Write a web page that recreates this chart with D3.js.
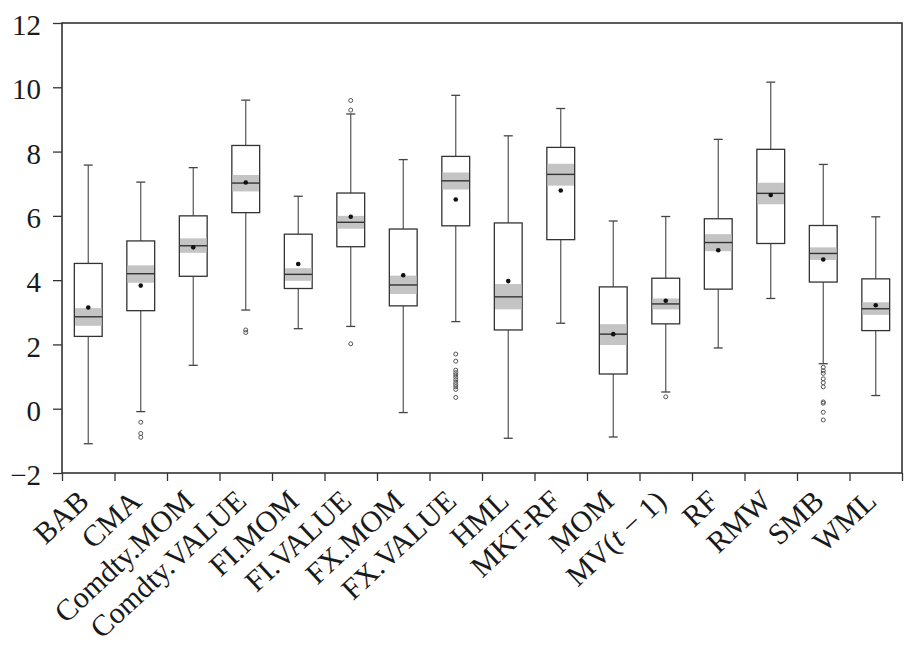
<!DOCTYPE html>
<html>
<head>
<meta charset="utf-8">
<script src="https://cdn.jsdelivr.net/npm/d3@7"></script>
<style>
  body { margin: 0; background: #fff; }
  svg text { font-family: "Liberation Serif", "Times New Roman", serif; fill: #1a1a1a; font-kerning: normal; }
</style>
</head>
<body>
<svg id="chart" width="909" height="651"></svg>
<script>
// factor names, one box each
var categories = ["BAB", "CMA", "Comdty.MOM", "Comdty.VALUE", "FI.MOM", "FI.VALUE",
  "FX.MOM", "FX.VALUE", "HML", "MKT-RF", "MOM", "MV(t-1)", "RF", "RMW", "SMB", "WML"];

// box statistics
var whiskerHi = [7.58, 7.05, 7.50, 9.60, 6.61, 9.17, 7.75, 9.75, 8.49, 9.34, 5.84, 5.98, 8.38, 10.16, 7.60, 5.97];
var q3        = [4.52, 5.22, 6.00, 8.19, 5.43, 6.71, 5.59, 7.85, 5.78, 8.13, 3.79, 4.06, 5.91, 8.07, 5.70, 4.04];
var notchHi   = [3.13, 4.46, 5.30, 7.27, 4.37, 6.00, 4.14, 7.35, 3.88, 7.62, 2.63, 3.43, 5.43, 7.03, 5.02, 3.31];
var median    = [2.86, 4.20, 5.07, 7.02, 4.18, 5.80, 3.85, 7.09, 3.48, 7.29, 2.32, 3.26, 5.17, 6.70, 4.83, 3.11];
var notchLo   = [2.58, 3.92, 4.85, 6.76, 3.98, 5.60, 3.57, 6.82, 3.09, 6.94, 1.98, 3.09, 4.90, 6.36, 4.63, 2.92];
var q1        = [2.25, 3.05, 4.12, 6.10, 3.74, 5.04, 3.20, 5.69, 2.45, 5.26, 1.08, 2.64, 3.72, 5.14, 3.94, 2.43];
var whiskerLo = [-1.09, -0.09, 1.35, 3.07, 2.49, 2.56, -0.12, 2.71, -0.92, 2.66, -0.88, 0.52, 1.89, 3.43, 1.40, 0.41];
var means     = [3.15, 3.83, 5.02, 7.04, 4.50, 5.97, 4.15, 6.51, 3.97, 6.79, 2.32, 3.36, 4.93, 6.65, 4.64, 3.22];
var outliers  = [
  [],
  [-0.42, -0.77, -0.89],
  [],
  [2.45, 2.37],
  [],
  [9.59, 9.29, 2.02],
  [],
  [1.70, 1.48, 1.20, 1.12, 1.05, 0.98, 0.90, 0.82, 0.75, 0.68, 0.60, 0.35],
  [], [], [],
  [0.37],
  [], [],
  [1.29, 1.18, 1.10, 0.93, 0.81, 0.68, 0.21, 0.17, -0.11, -0.35],
  []
];
var yTicks = [-2, 0, 2, 4, 6, 8, 10, 12];

var svg = d3.select("#chart");
var margin = {top: 23, right: 7, bottom: 178, left: 62};
var width = 909 - margin.left - margin.right;
var height = 651 - margin.top - margin.bottom;

var g = svg.append("g")
  .attr("transform", "translate(" + margin.left + "," + margin.top + ")");

var x = d3.scaleBand().domain(categories).range([0, width]).paddingInner(0).paddingOuter(0);
var y = d3.scaleLinear().domain([-2, 12]).range([height, 0]);

var boxW = x.bandwidth() * 0.53;
var capW = 9;

var data = categories.map(function(c, i) {
  return {
    name: c, hi: whiskerHi[i], q3: q3[i], nHi: notchHi[i], med: median[i],
    nLo: notchLo[i], q1: q1[i], lo: whiskerLo[i], mean: means[i], out: outliers[i]
  };
});

var box = g.selectAll(".box").data(data).enter()
  .append("g")
    .attr("class", "box")
    .attr("transform", function(d) { return "translate(" + (x(d.name) + x.bandwidth() / 2) + ",0)"; });

// whiskers
box.append("line")
  .attr("x1", 0).attr("x2", 0)
  .attr("y1", function(d) { return y(d.q3); })
  .attr("y2", function(d) { return y(d.hi); })
  .attr("stroke", "#555").attr("stroke-width", 1.2);
box.append("line")
  .attr("x1", 0).attr("x2", 0)
  .attr("y1", function(d) { return y(d.q1); })
  .attr("y2", function(d) { return y(d.lo); })
  .attr("stroke", "#555").attr("stroke-width", 1.2);
box.append("line")
  .attr("x1", -capW / 2).attr("x2", capW / 2)
  .attr("y1", function(d) { return y(d.hi); })
  .attr("y2", function(d) { return y(d.hi); })
  .attr("stroke", "#444").attr("stroke-width", 1.3);
box.append("line")
  .attr("x1", -capW / 2).attr("x2", capW / 2)
  .attr("y1", function(d) { return y(d.lo); })
  .attr("y2", function(d) { return y(d.lo); })
  .attr("stroke", "#444").attr("stroke-width", 1.3);

// box body
box.append("rect")
  .attr("x", -boxW / 2)
  .attr("width", boxW)
  .attr("y", function(d) { return y(d.q3); })
  .attr("height", function(d) { return y(d.q1) - y(d.q3); })
  .attr("fill", "#fff").attr("stroke", "#333").attr("stroke-width", 1.3);

// notch band
box.append("rect")
  .attr("x", -boxW / 2 + 0.7)
  .attr("width", boxW - 1.4)
  .attr("y", function(d) { return y(d.nHi); })
  .attr("height", function(d) { return y(d.nLo) - y(d.nHi); })
  .attr("fill", "#c4c4c4");

// median
box.append("line")
  .attr("x1", -boxW / 2).attr("x2", boxW / 2)
  .attr("y1", function(d) { return y(d.med); })
  .attr("y2", function(d) { return y(d.med); })
  .attr("stroke", "#333").attr("stroke-width", 1.4);

// mean
box.append("circle")
  .attr("cx", 0)
  .attr("cy", function(d) { return y(d.mean); })
  .attr("r", 2.3)
  .attr("fill", "#111");

// outliers
box.selectAll(".out").data(function(d) { return d.out; }).enter()
  .append("circle")
    .attr("class", "out")
    .attr("cx", 0)
    .attr("cy", function(v) { return y(v); })
    .attr("r", 2)
    .attr("fill", "none").attr("stroke", "#555").attr("stroke-width", 1);

// frame
g.append("rect")
  .attr("x", 0).attr("y", 0)
  .attr("width", width).attr("height", height)
  .attr("fill", "none").attr("stroke", "#333").attr("stroke-width", 1.6);

// y axis
var yAxis = g.append("g")
  .call(d3.axisLeft(y).tickValues(yTicks).tickSize(9).tickPadding(12));
yAxis.select(".domain").remove();
yAxis.selectAll(".tick line").attr("stroke", "#333").attr("stroke-width", 1.3);
yAxis.selectAll(".tick text")
  .style("font-size", "29px")
  .attr("dy", "0.4em");

// x boundary ticks
var xb = d3.scaleLinear().domain([0, categories.length]).range([0, width]);
var xTicks = g.append("g")
  .attr("transform", "translate(0," + height + ")")
  .call(d3.axisBottom(xb).tickValues(d3.range(0, categories.length + 1)).tickSize(8).tickFormat(""));
xTicks.select(".domain").remove();
xTicks.selectAll(".tick line").attr("stroke", "#333").attr("stroke-width", 1.3);

// x labels, rotated
var xLab = g.append("g")
  .attr("transform", "translate(0," + height + ")")
  .call(d3.axisBottom(x).tickSize(0).tickFormat(""));
xLab.select(".domain").remove();

xLab.selectAll(".tick").append("text")
  .style("font-size", "30px")
  .attr("text-anchor", "end")
  .attr("transform", "translate(-12,15) rotate(-43)")
  .attr("dy", "0.7em")
  .each(function(d) {
    var t = d3.select(this);
    if (d === "MV(t-1)") {
      t.append("tspan").text("MV(");
      t.append("tspan").attr("font-style", "italic").text("t");
      t.append("tspan").text(" \u2212 1)");
    } else {
      t.text(d);
    }
  });
</script>
</body>
</html>
